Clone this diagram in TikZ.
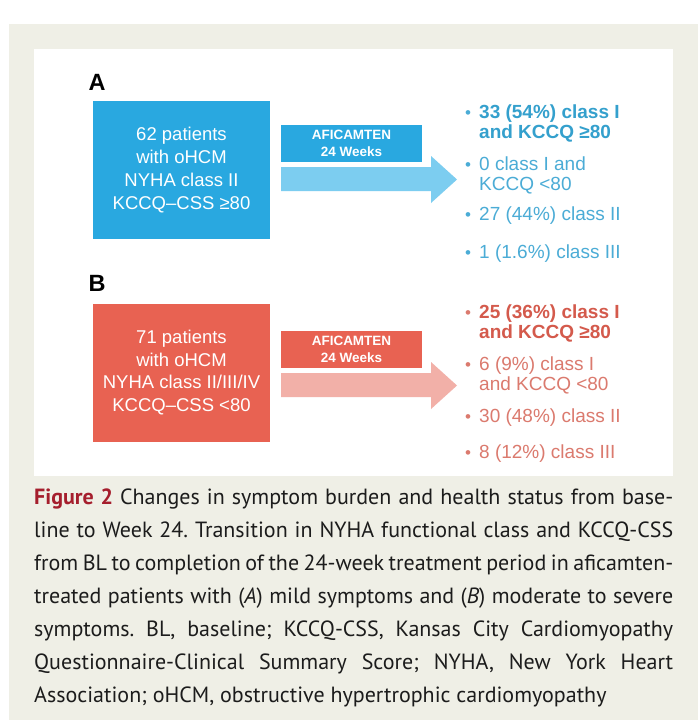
\documentclass[tikz,border=0pt]{standalone}
\usepackage{fontspec}
\setmainfont{Liberation Sans}
\newfontfamily\capfont{PT Sans}
\definecolor{beige}{RGB}{239, 239, 230}
\definecolor{blueA}{RGB}{41, 168, 224}
\definecolor{lightA}{RGB}{124, 205, 240}
\definecolor{textA}{RGB}{52, 160, 205}
\definecolor{softA}{RGB}{75, 172, 214}
\definecolor{redB}{RGB}{232, 98, 82}
\definecolor{lightB}{RGB}{242, 176, 168}
\definecolor{textB}{RGB}{212, 90, 76}
\definecolor{softB}{RGB}{219, 122, 110}
\definecolor{figred}{RGB}{165, 30, 45}
\definecolor{captext}{RGB}{28, 28, 28}

\tikzset{
  patbox/.style={minimum width=177pt, minimum height=138pt, inner sep=0pt,
    text=white, align=center, font=\fontsize{18.5}{22.7}\selectfont},
  drugbox/.style={minimum width=141pt, minimum height=37pt, inner sep=0pt,
    text=white, align=center, font=\bfseries\fontsize{13.5}{16.7}\selectfont},
  item/.style={anchor=base west, inner sep=0pt, font=\fontsize{19}{20}\selectfont},
  bolditem/.style={item, font=\bfseries\fontsize{19}{20}\selectfont},
  dot/.style={anchor=base, inner sep=0pt, font=\fontsize{17}{17}\selectfont},
  panel/.style={inner sep=0pt, font=\bfseries\fontsize{23.5}{23.5}\selectfont}
}

\begin{document}
\begin{tikzpicture}[x=1pt, y=-1pt]
  \useasboundingbox (0, 0) rectangle (698, 724);

  \fill[beige] (9, 24) rectangle (698, 720);
  \fill[white] (34, 49) rectangle (673, 476);

  % panel A
  \node[panel] (labA) at (97, 82) {A};
  \node[patbox, fill=blueA] (boxA) at (181.5, 170)
    {62 patients\\with oHCM\\NYHA class II\\KCCQ–CSS ≥80};
  \node[drugbox, fill=blueA] (drugA) at (351.5, 143.5) {AFICAMTEN\\24 Weeks};
  \fill[lightA] (281, 167) -- (431, 167) -- (431, 156) -- (457, 179.5)
    -- (431, 203) -- (431, 191) -- (281, 191) -- cycle;

  \foreach \y [count=\i] in {118.5, 170.5, 220.5, 258.5} {
    \node[dot, text=softA] (dotA\i) at (468, \y) {•};
  }
  \node[bolditem, text=textA] (itemA1) at (479, 118.5) {33 (54\%) class I};
  \node[bolditem, text=textA] (itemA1b) at (479, 138.5) {and KCCQ ≥80};
  \node[item, text=softA] (itemA2) at (479, 170.5) {0 class I and};
  \node[item, text=softA] (itemA2b) at (479, 190.5) {KCCQ <80};
  \node[item, text=softA] (itemA3) at (479, 220.5) {27 (44\%) class II};
  \node[item, text=softA] (itemA4) at (479, 258.5) {1 (1.6\%) class III};

  % panel B
  \node[panel] (labB) at (97, 283) {B};
  \node[patbox, fill=redB] (boxB) at (181.5, 372.5)
    {71 patients\\with oHCM\\NYHA class II/III/IV\\KCCQ–CSS <80};
  \node[drugbox, fill=redB] (drugB) at (351.5, 349.5) {AFICAMTEN\\24 Weeks};
  \fill[lightB] (281, 373) -- (431, 373) -- (431, 362) -- (457, 385.5)
    -- (431, 409) -- (431, 397) -- (281, 397) -- cycle;

  \foreach \y [count=\i] in {318.5, 370.5, 422.5, 458.5} {
    \node[dot, text=softB] (dotB\i) at (468, \y) {•};
  }
  \node[bolditem, text=textB] (itemB1) at (479, 318.5) {25 (36\%) class I};
  \node[bolditem, text=textB] (itemB1b) at (479, 338.5) {and KCCQ ≥80};
  \node[item, text=softB] (itemB2) at (479, 370.5) {6 (9\%) class I};
  \node[item, text=softB] (itemB2b) at (479, 390.5) {and KCCQ <80};
  \node[item, text=softB] (itemB3) at (479, 422.5) {30 (48\%) class II};
  \node[item, text=softB] (itemB4) at (479, 458.5) {8 (12\%) class III};

  % caption
  \node[anchor=north west, inner sep=0pt, text width=639pt, align=justify,
    text=captext, font=\capfont\fontsize{22}{33}\selectfont\frenchspacing] (caption) at (34, 489)
    {{\bfseries\color{figred}Figure 2} Changes in symptom burden and health status from base-\linebreak
     line to Week 24. Transition in NYHA functional class and KCCQ-CSS\linebreak
     from BL to completion of the 24-week treatment period in aficamten-\linebreak
     treated patients with (\textit{A}) mild symptoms and (\textit{B}) moderate to severe\linebreak
     symptoms. BL, baseline; KCCQ-CSS, Kansas City Cardiomyopathy\linebreak
     Questionnaire-Clinical Summary Score; NYHA, New York Heart\linebreak
     Association; oHCM, obstructive hypertrophic cardiomyopathy};
\end{tikzpicture}
\end{document}
